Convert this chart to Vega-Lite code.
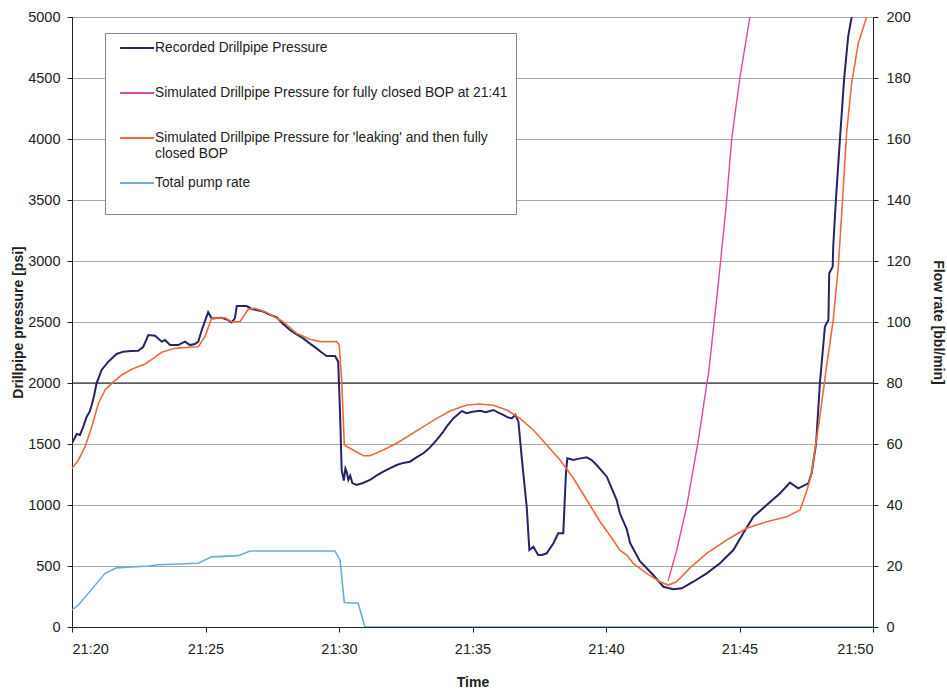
{
  "$schema": "https://vega.github.io/schema/vega-lite/v6.json",
  "width": 801,
  "height": 610,
  "autosize": {"type": "none"},
  "padding": {"left": 72, "top": 17, "right": 74, "bottom": 65},
  "background": "white",
  "config": {
    "font": "Liberation Sans",
    "view": {"stroke": "#333", "strokeWidth": 1},
    "axis": {
      "labelFont": "Liberation Sans", "labelFontSize": 14.5, "labelColor": "#222",
      "titleFont": "Liberation Sans", "titleFontSize": 14, "titleFontWeight": "bold", "titleColor": "#222",
      "domainColor": "#222", "tickColor": "#222", "tickSize": 5
    }
  },
  "datasets": {
    "recorded": [
      {"minute": 20.0, "psi": 1506}, {"minute": 20.18, "psi": 1582}, {"minute": 20.3, "psi": 1574}, {"minute": 20.42, "psi": 1640},
      {"minute": 20.55, "psi": 1724}, {"minute": 20.65, "psi": 1760}, {"minute": 20.74, "psi": 1820}, {"minute": 20.83, "psi": 1900},
      {"minute": 20.92, "psi": 1997}, {"minute": 21.11, "psi": 2107}, {"minute": 21.36, "psi": 2175}, {"minute": 21.67, "psi": 2238},
      {"minute": 21.92, "psi": 2257}, {"minute": 22.2, "psi": 2262}, {"minute": 22.48, "psi": 2265}, {"minute": 22.67, "psi": 2297},
      {"minute": 22.86, "psi": 2393}, {"minute": 23.11, "psi": 2388}, {"minute": 23.25, "psi": 2360}, {"minute": 23.36, "psi": 2339},
      {"minute": 23.48, "psi": 2352}, {"minute": 23.67, "psi": 2311}, {"minute": 23.98, "psi": 2311}, {"minute": 24.1, "psi": 2325},
      {"minute": 24.23, "psi": 2339}, {"minute": 24.42, "psi": 2311}, {"minute": 24.6, "psi": 2320}, {"minute": 24.73, "psi": 2339},
      {"minute": 24.86, "psi": 2434}, {"minute": 25.1, "psi": 2580}, {"minute": 25.23, "psi": 2530}, {"minute": 25.61, "psi": 2535},
      {"minute": 25.85, "psi": 2515}, {"minute": 25.98, "psi": 2497}, {"minute": 26.1, "psi": 2530}, {"minute": 26.17, "psi": 2631},
      {"minute": 26.54, "psi": 2631}, {"minute": 26.73, "psi": 2607}, {"minute": 27.17, "psi": 2585}, {"minute": 27.4, "psi": 2560},
      {"minute": 27.67, "psi": 2538}, {"minute": 27.9, "psi": 2485}, {"minute": 28.16, "psi": 2434}, {"minute": 28.4, "psi": 2400},
      {"minute": 28.66, "psi": 2366}, {"minute": 28.9, "psi": 2325}, {"minute": 29.16, "psi": 2284}, {"minute": 29.35, "psi": 2250},
      {"minute": 29.54, "psi": 2221}, {"minute": 29.85, "psi": 2221}, {"minute": 29.97, "psi": 2175}, {"minute": 30.04, "psi": 1752},
      {"minute": 30.1, "psi": 1287}, {"minute": 30.18, "psi": 1200}, {"minute": 30.24, "psi": 1300}, {"minute": 30.29, "psi": 1273},
      {"minute": 30.35, "psi": 1205}, {"minute": 30.42, "psi": 1240}, {"minute": 30.5, "psi": 1180}, {"minute": 30.66, "psi": 1164},
      {"minute": 30.9, "psi": 1180}, {"minute": 31.16, "psi": 1205}, {"minute": 31.4, "psi": 1240}, {"minute": 31.66, "psi": 1273},
      {"minute": 31.9, "psi": 1300}, {"minute": 32.16, "psi": 1328}, {"minute": 32.4, "psi": 1345}, {"minute": 32.66, "psi": 1355},
      {"minute": 32.9, "psi": 1390}, {"minute": 33.16, "psi": 1424}, {"minute": 33.4, "psi": 1470}, {"minute": 33.66, "psi": 1533},
      {"minute": 33.9, "psi": 1600}, {"minute": 34.03, "psi": 1642}, {"minute": 34.28, "psi": 1710}, {"minute": 34.6, "psi": 1770},
      {"minute": 34.78, "psi": 1752}, {"minute": 35.0, "psi": 1765}, {"minute": 35.28, "psi": 1773}, {"minute": 35.5, "psi": 1760},
      {"minute": 35.78, "psi": 1779}, {"minute": 35.95, "psi": 1760}, {"minute": 36.15, "psi": 1738}, {"minute": 36.3, "psi": 1720},
      {"minute": 36.47, "psi": 1710}, {"minute": 36.6, "psi": 1740}, {"minute": 36.72, "psi": 1683}, {"minute": 36.84, "psi": 1396},
      {"minute": 37.03, "psi": 986}, {"minute": 37.13, "psi": 631}, {"minute": 37.28, "psi": 658}, {"minute": 37.46, "psi": 590},
      {"minute": 37.6, "psi": 590}, {"minute": 37.78, "psi": 604}, {"minute": 38.03, "psi": 686}, {"minute": 38.21, "psi": 768},
      {"minute": 38.4, "psi": 768}, {"minute": 38.5, "psi": 1260}, {"minute": 38.55, "psi": 1383}, {"minute": 38.78, "psi": 1369},
      {"minute": 39.0, "psi": 1380}, {"minute": 39.28, "psi": 1391}, {"minute": 39.45, "psi": 1370}, {"minute": 39.65, "psi": 1328},
      {"minute": 40.03, "psi": 1232}, {"minute": 40.4, "psi": 1041}, {"minute": 40.52, "psi": 932}, {"minute": 40.78, "psi": 800},
      {"minute": 40.9, "psi": 690}, {"minute": 41.27, "psi": 540}, {"minute": 41.77, "psi": 426}, {"minute": 42.15, "psi": 330},
      {"minute": 42.52, "psi": 309}, {"minute": 42.84, "psi": 317}, {"minute": 43.27, "psi": 371}, {"minute": 43.77, "psi": 440},
      {"minute": 44.27, "psi": 522}, {"minute": 44.77, "psi": 631}, {"minute": 45.14, "psi": 768}, {"minute": 45.52, "psi": 904},
      {"minute": 46.02, "psi": 1000}, {"minute": 46.52, "psi": 1096}, {"minute": 46.89, "psi": 1183}, {"minute": 47.2, "psi": 1137},
      {"minute": 47.58, "psi": 1178}, {"minute": 47.7, "psi": 1260}, {"minute": 47.87, "psi": 1506}, {"minute": 48.01, "psi": 1998},
      {"minute": 48.2, "psi": 2462}, {"minute": 48.33, "psi": 2516}, {"minute": 48.36, "psi": 2899}, {"minute": 48.49, "psi": 2953},
      {"minute": 48.51, "psi": 3117}, {"minute": 48.61, "psi": 3500}, {"minute": 48.76, "psi": 3992}, {"minute": 48.92, "psi": 4497},
      {"minute": 49.07, "psi": 4839}, {"minute": 49.2, "psi": 5000}
    ],
    "closed": [
      {"minute": 42.33, "psi": 380}, {"minute": 42.65, "psi": 631}, {"minute": 43.02, "psi": 986}, {"minute": 43.46, "psi": 1533},
      {"minute": 43.85, "psi": 2100}, {"minute": 44.2, "psi": 2800}, {"minute": 44.5, "psi": 3450}, {"minute": 44.71, "psi": 4005},
      {"minute": 45.02, "psi": 4510}, {"minute": 45.39, "psi": 5000}
    ],
    "leaking": [
      {"minute": 20.0, "psi": 1301}, {"minute": 20.24, "psi": 1369}, {"minute": 20.49, "psi": 1478}, {"minute": 20.74, "psi": 1642},
      {"minute": 20.99, "psi": 1834}, {"minute": 21.24, "psi": 1943}, {"minute": 21.49, "psi": 1997}, {"minute": 21.86, "psi": 2066},
      {"minute": 22.24, "psi": 2112}, {"minute": 22.73, "psi": 2156}, {"minute": 23.05, "psi": 2202}, {"minute": 23.36, "psi": 2252},
      {"minute": 23.86, "psi": 2284}, {"minute": 24.36, "psi": 2293}, {"minute": 24.73, "psi": 2297}, {"minute": 24.98, "psi": 2380},
      {"minute": 25.23, "psi": 2530}, {"minute": 25.73, "psi": 2535}, {"minute": 25.98, "psi": 2502}, {"minute": 26.29, "psi": 2502},
      {"minute": 26.6, "psi": 2604}, {"minute": 26.85, "psi": 2612}, {"minute": 27.23, "psi": 2585}, {"minute": 27.91, "psi": 2502},
      {"minute": 28.41, "psi": 2407}, {"minute": 28.91, "psi": 2358}, {"minute": 29.29, "psi": 2339}, {"minute": 29.91, "psi": 2339},
      {"minute": 30.01, "psi": 2311}, {"minute": 30.1, "psi": 2025}, {"minute": 30.2, "psi": 1492}, {"minute": 30.41, "psi": 1465},
      {"minute": 30.91, "psi": 1404}, {"minute": 31.16, "psi": 1404}, {"minute": 31.66, "psi": 1451}, {"minute": 32.16, "psi": 1506},
      {"minute": 32.66, "psi": 1574}, {"minute": 33.16, "psi": 1642}, {"minute": 33.66, "psi": 1710}, {"minute": 34.16, "psi": 1770},
      {"minute": 34.78, "psi": 1820}, {"minute": 35.28, "psi": 1828}, {"minute": 35.78, "psi": 1817}, {"minute": 36.28, "psi": 1779},
      {"minute": 36.78, "psi": 1710}, {"minute": 37.28, "psi": 1615}, {"minute": 37.78, "psi": 1492}, {"minute": 38.28, "psi": 1369},
      {"minute": 38.78, "psi": 1219}, {"minute": 39.28, "psi": 1041}, {"minute": 39.78, "psi": 863}, {"minute": 40.27, "psi": 713},
      {"minute": 40.52, "psi": 630}, {"minute": 40.78, "psi": 590}, {"minute": 41.02, "psi": 522}, {"minute": 41.27, "psi": 480},
      {"minute": 41.52, "psi": 440}, {"minute": 42.02, "psi": 371}, {"minute": 42.33, "psi": 344}, {"minute": 42.64, "psi": 371},
      {"minute": 43.13, "psi": 481}, {"minute": 43.77, "psi": 604}, {"minute": 44.52, "psi": 713}, {"minute": 45.27, "psi": 809},
      {"minute": 46.02, "psi": 863}, {"minute": 46.77, "psi": 904}, {"minute": 47.27, "psi": 959}, {"minute": 47.53, "psi": 1123},
      {"minute": 47.7, "psi": 1260}, {"minute": 47.77, "psi": 1369}, {"minute": 48.01, "psi": 1724}, {"minute": 48.26, "psi": 2134},
      {"minute": 48.51, "psi": 2516}, {"minute": 48.7, "psi": 2953}, {"minute": 48.86, "psi": 3500}, {"minute": 49.01, "psi": 4047},
      {"minute": 49.2, "psi": 4457}, {"minute": 49.45, "psi": 4785}, {"minute": 49.76, "psi": 5000}
    ],
    "pump": [
      {"minute": 20.0, "rate": 5.6}, {"minute": 20.24, "rate": 7.2}, {"minute": 21.24, "rate": 17.6}, {"minute": 21.67, "rate": 19.4},
      {"minute": 22.86, "rate": 20.0}, {"minute": 23.23, "rate": 20.4}, {"minute": 24.73, "rate": 20.9}, {"minute": 25.23, "rate": 23.0},
      {"minute": 26.23, "rate": 23.4}, {"minute": 26.67, "rate": 24.9}, {"minute": 29.85, "rate": 24.9}, {"minute": 30.04, "rate": 22.0},
      {"minute": 30.2, "rate": 8.0}, {"minute": 30.72, "rate": 7.8}, {"minute": 30.97, "rate": 0}, {"minute": 50.0, "rate": 0}
    ],
    "reference": [{"psi": 2000}]
  },
  "layer": [
    {
      "layer": [
        {
          "data": {"name": "reference"},
          "mark": {"type": "rule", "color": "#111", "strokeWidth": 1},
          "encoding": {
            "y": {
              "field": "psi", "type": "quantitative",
              "scale": {"domain": [0, 5000], "nice": false},
              "axis": {
                "values": [0, 500, 1000, 1500, 2000, 2500, 3000, 3500, 4000, 4500, 5000], "format": "d",
                "title": "Drillpipe pressure [psi]", "grid": true, "gridColor": "#aaaaaa", "gridWidth": 1,
                "labelPadding": 7, "titlePadding": 2
              }
            }
          }
        },
        {
          "data": {"name": "recorded"},
          "mark": {"type": "line", "clip": true, "strokeWidth": 2},
          "encoding": {
            "x": {
              "field": "minute", "type": "quantitative",
              "scale": {"domain": [20, 50], "nice": false, "zero": false},
              "axis": {
                "values": [20, 25, 30, 35, 40, 45, 50], "labelExpr": "'21:' + datum.value",
                "title": "Time", "grid": false, "labelPadding": 10, "titlePadding": 20
              }
            },
            "y": {"field": "psi", "type": "quantitative"},
            "color": {
              "datum": "Recorded Drillpipe Pressure",
              "type": "nominal",
              "scale": {
                "domain": [
                  "Recorded Drillpipe Pressure",
                  "Simulated Drillpipe Pressure for fully closed BOP at 21:41",
                  "Simulated Drillpipe Pressure for 'leaking' and then fully closed BOP",
                  "Total pump rate"
                ],
                "range": ["#262463", "#e0479e", "#ee6a3c", "#6aaed6"]
              },
              "legend": {
                "orient": "none", "legendX": 33, "legendY": 16, "title": null,
                "symbolType": "M-2.833,0H2.833", "symbolSize": 144, "symbolStrokeWidth": 2,
                "symbolOffset": 17, "labelOffset": 11,
                "labelFont": "Liberation Sans", "labelFontSize": 13.8, "labelColor": "#222", "labelLimit": 0,
                "labelExpr": "indexof(datum.label, 'leaking') >= 0 ? [\"Simulated Drillpipe Pressure for 'leaking' and then fully\", \"closed BOP\"] : [datum.label, '']",
                "strokeColor": "#888", "fillColor": "white", "padding": 8, "rowPadding": 15
              }
            }
          }
        },
        {
          "data": {"name": "closed"},
          "mark": {"type": "line", "clip": true, "strokeWidth": 1.4},
          "encoding": {
            "x": {"field": "minute", "type": "quantitative"},
            "y": {"field": "psi", "type": "quantitative"},
            "color": {"datum": "Simulated Drillpipe Pressure for fully closed BOP at 21:41", "type": "nominal"}
          }
        },
        {
          "data": {"name": "leaking"},
          "mark": {"type": "line", "clip": true, "strokeWidth": 1.6},
          "encoding": {
            "x": {"field": "minute", "type": "quantitative"},
            "y": {"field": "psi", "type": "quantitative"},
            "color": {"datum": "Simulated Drillpipe Pressure for 'leaking' and then fully closed BOP", "type": "nominal"}
          }
        }
      ]
    },
    {
      "data": {"name": "pump"},
      "mark": {"type": "line", "clip": true, "strokeWidth": 1.6},
      "encoding": {
        "x": {"field": "minute", "type": "quantitative"},
        "y": {
          "field": "rate", "type": "quantitative",
          "scale": {"domain": [0, 200], "nice": false},
          "axis": {
            "orient": "right", "values": [0, 20, 40, 60, 80, 100, 120, 140, 160, 180, 200],
            "title": "Flow rate [bbl/min]", "grid": false, "labelPadding": 8, "titlePadding": 20
          }
        },
        "color": {"datum": "Total pump rate", "type": "nominal"}
      }
    }
  ],
  "resolve": {"scale": {"y": "independent"}}
}
